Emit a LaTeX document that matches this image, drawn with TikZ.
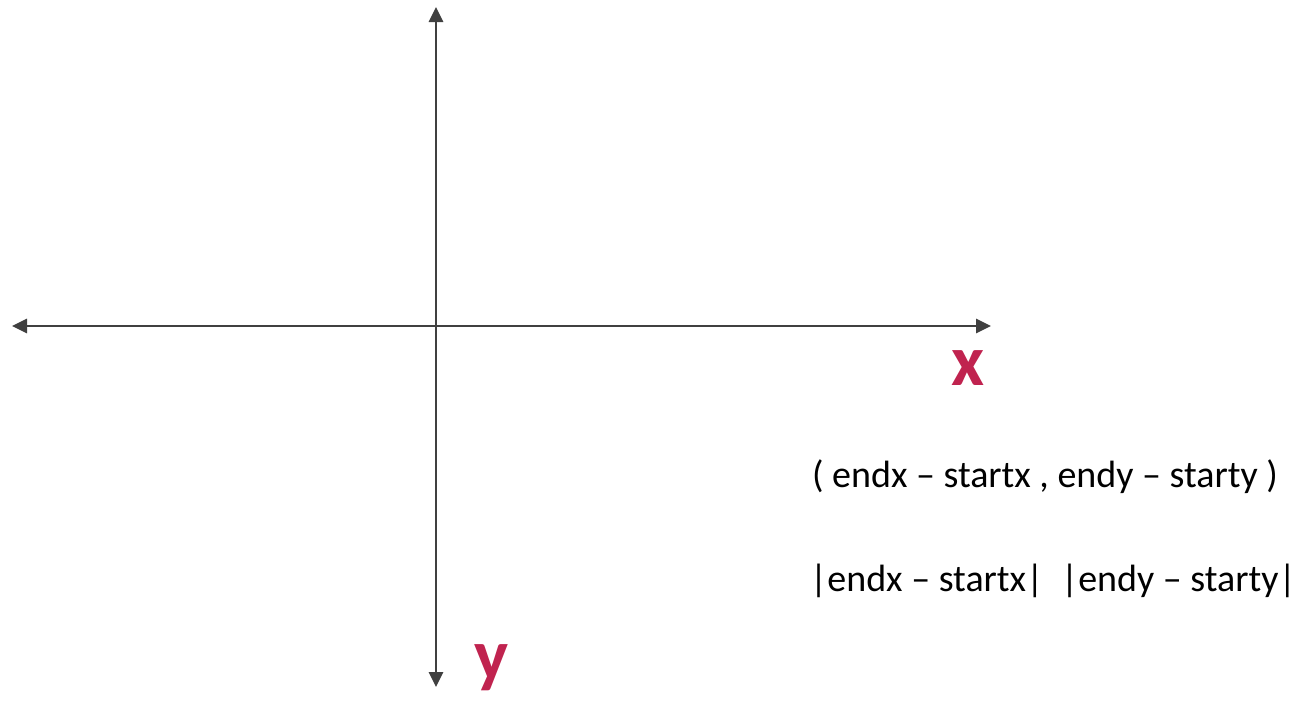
\documentclass[tikz,border=0pt]{standalone}
\usepackage{fontspec}
\setmainfont{Carlito}
\usetikzlibrary{arrows.meta}
\definecolor{axisgray}{HTML}{404040}
\definecolor{labred}{HTML}{C0234F}
\tikzset{
  axis/.style={draw=axisgray, line width=2.8pt, {Triangle[length=15pt,width=14pt]}-{Triangle[length=15pt,width=14pt]}},
  axlabel/.style={text=labred, font=\fontsize{72}{72}\selectfont\bfseries, inner sep=0pt},
  formula/.style={text=black, font=\fontsize{38}{40}\selectfont, inner sep=0pt, anchor=base}
}
\begin{document}
\begin{tikzpicture}[x=1pt,y=-1pt]
\useasboundingbox (0,0) rectangle (1302,704);
\coordinate (L) at (12,326);
\coordinate (R) at (991,326);
\coordinate (T) at (436,7);
\coordinate (B) at (436,687);
\draw[axis] (L) -- (R);
\draw[axis] (T) -- (B);
\node[axlabel] (xl) at (968,368) {x};
\node[axlabel] (yl) at (492,668) {y};
\node[formula] (f1) at (1045,487) {( endx – startx , endy – starty )};
\node[formula] (f2) at (1053,591) {|endx – startx|\ \ |endy – starty|};
\end{tikzpicture}
\end{document}
